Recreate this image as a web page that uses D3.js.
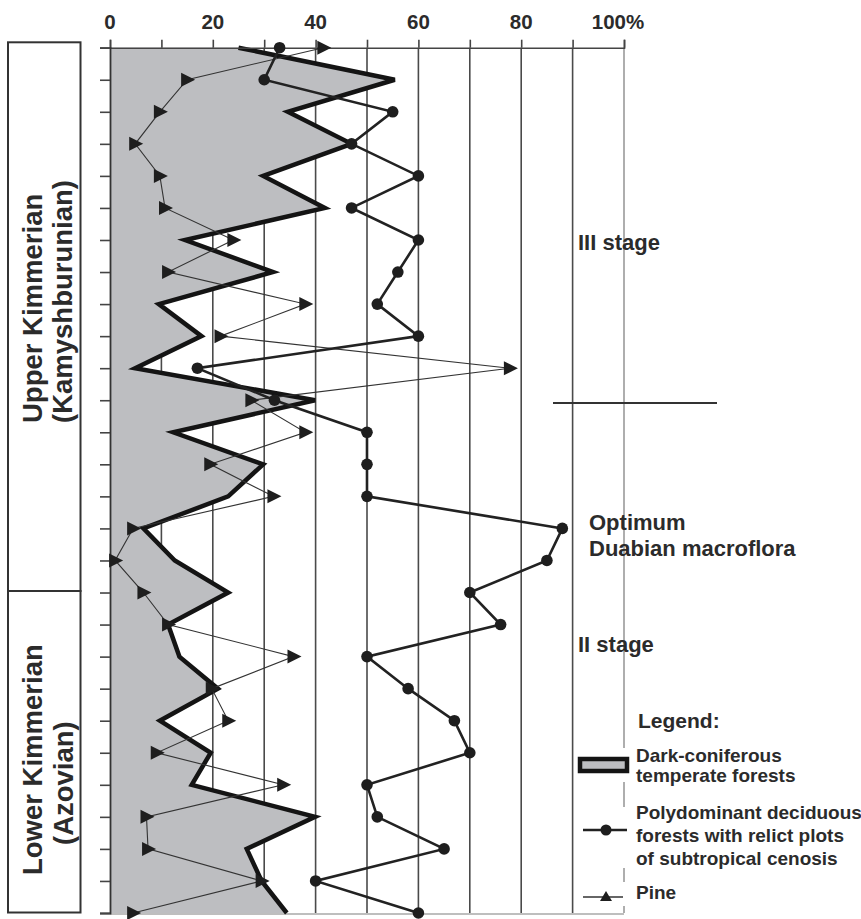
<!DOCTYPE html>
<html><head><meta charset="utf-8">
<script src="https://cdn.jsdelivr.net/npm/d3@7"></script>
<style>
body{margin:0;background:#fff;}
svg text{font-family:"Liberation Sans",Arial,sans-serif;font-weight:bold;fill:#2b2b2b;}
</style></head><body>
<svg id="chart" width="861" height="919"></svg>
<script>
// Sampling levels of the section, top (youngest) to bottom (oldest)
const levels = d3.range(28);
// Dark-coniferous temperate forests, % of pollen spectrum
const coniferous = [25, 55.4, 34.6, 47, 29.8, 41.8, 14.6, 31.7, 9.5, 17.8, 4.9, 39.9, 12.3, 29.8,
                    23, 6.5, 12.6, 23, 11.3, 13.5, 21, 9.7, 19.6, 15.9, 39.9, 26.6, 29.5, 34.4];
// Polydominant deciduous forests with relict plots of subtropical cenosis, %
const polydominant = [33, 30, 55, 47, 60, 47, 60, 56, 52, 60, 17, 32, 50, 50,
                      50, 88, 85, 70, 76, 50, 58, 67, 70, 50, 52, 65, 40, 60];
// Pine, %
const pine = [41.5, 15, 9.7, 4.9, 9.7, 10.7, 24, 11.3, 38, 21.5, 77.8, 27.5, 38, 19.5,
              31.8, 4.5, 1, 6.5, 11.3, 35.7, 19.8, 23, 9.1, 33.7, 7.1, 7.4, 29.5, 4.5];
const gridTicks = [0, 10, 20, 30, 40, 50, 60, 70, 80, 90, 100];
const labelTicks = [0, 20, 40, 60, 80, 100];
const labelText = ["0", "20", "40", "60", "80", "100%"];
const stages = [
  {name: "Upper Kimmerian", sub: "(Kamyshburunian)"},
  {name: "Lower Kimmerian", sub: "(Azovian)"}
];
const legendItems = [
  {kind: "area", lines: ["Dark-coniferous", "temperate forests"]},
  {kind: "poly", lines: ["Polydominant deciduous", "forests with relict plots", "of subtropical cenosis"]},
  {kind: "pine", lines: ["Pine"]}
];

const svg = d3.select("#chart");
const x = d3.scaleLinear().domain([0, 100]).range([110, 624]);
const y = d3.scaleLinear().domain([0, 27]).range([47.7, 913]);

// vertical grid every 10 %
svg.append("g").selectAll("line").data(gridTicks.filter(d => d > 0)).join("line")
  .attr("x1", d => x(d)).attr("x2", d => x(d))
  .attr("y1", y(0)).attr("y2", y(27))
  .attr("stroke", d => d === 100 ? "#9a9a9a" : "#4a4a4a")
  .attr("stroke-width", 1.6);

// bottom frame line
svg.append("line").attr("x1", x(0)).attr("x2", x(100)).attr("y1", y(27) + 1).attr("y2", y(27) + 1)
  .attr("stroke", "#a8a8a8").attr("stroke-width", 1.6);

// dark-coniferous area
const rows = levels.map(i => ({i, c: coniferous[i], p: polydominant[i], n: pine[i]}));
svg.append("path").datum(rows)
  .attr("fill", "#bdbec1")
  .attr("d", d3.area().x0(x(0)).x1(d => x(d.c)).y(d => y(d.i)));
svg.append("path").datum(rows)
  .attr("fill", "none").attr("stroke", "#141414").attr("stroke-width", 4.5)
  .attr("stroke-linejoin", "miter")
  .attr("d", d3.line().x(d => x(d.c)).y(d => y(d.i)));

// top axis
const topAxis = d3.axisTop(x).tickValues(gridTicks).tickSize(8).tickFormat("");
svg.append("g").attr("transform", `translate(0,${y(0)})`).call(topAxis)
  .call(g => g.select(".domain").attr("stroke", "#444").attr("stroke-width", 1.6))
  .call(g => g.selectAll(".tick line").attr("stroke", "#444").attr("stroke-width", 1.6));
svg.append("g").selectAll("text").data(labelTicks).join("text")
  .attr("x", (d, i) => x(d) - (i === labelTicks.length - 1 ? 6 : 0))
  .attr("y", 29).attr("text-anchor", "middle").attr("font-size", 20.5)
  .text((d, i) => labelText[i]);

// left axis
const leftAxis = d3.axisLeft(y).tickValues(levels).tickSize(10).tickFormat("");
svg.append("g").attr("transform", `translate(${x(0)},0)`).call(leftAxis)
  .call(g => g.select(".domain").attr("stroke", "#333").attr("stroke-width", 1.8))
  .call(g => g.selectAll(".tick line").attr("stroke", "#444").attr("stroke-width", 1.6));

// pine
const tri = "M-6,-7L-6,7L8,0Z";
svg.append("path").datum(rows)
  .attr("fill", "none").attr("stroke", "#333").attr("stroke-width", 1.1)
  .attr("d", d3.line().x(d => x(d.n)).y(d => y(d.i)));
svg.append("g").selectAll("path").data(rows).join("path")
  .attr("d", tri).attr("fill", "#1e1e1e")
  .attr("transform", d => `translate(${x(d.n)},${y(d.i)})`);

// polydominant deciduous forests
svg.append("path").datum(rows)
  .attr("fill", "none").attr("stroke", "#222").attr("stroke-width", 2.6)
  .attr("d", d3.line().x(d => x(d.p)).y(d => y(d.i)));
svg.append("g").selectAll("circle").data(rows).join("circle")
  .attr("cx", d => x(d.p)).attr("cy", d => y(d.i)).attr("r", 5.8).attr("fill", "#1e1e1e");

// stratigraphic column
const boxTop = 42.3, boxX0 = 8, boxX1 = 80.5;
const stageY = [boxTop, 591, 912.5];
stages.forEach((s, k) => {
  svg.append("rect").attr("x", boxX0).attr("y", stageY[k]).attr("width", boxX1 - boxX0)
    .attr("height", stageY[k + 1] - stageY[k]).attr("fill", "none")
    .attr("stroke", "#333").attr("stroke-width", 2);
});
const stageText = [
  {t: stages[0].name, x: 42, y: 423}, {t: stages[0].sub, x: 72, y: 423},
  {t: stages[1].name, x: 42, y: 875}, {t: stages[1].sub, x: 73, y: 845}
];
svg.append("g").selectAll("text").data(stageText).join("text")
  .attr("transform", d => `translate(${d.x},${d.y}) rotate(-90)`)
  .attr("font-size", 27.5).text(d => d.t);

// annotations
svg.append("text").attr("x", 578).attr("y", 250).attr("font-size", 22).text("III stage");
svg.append("line").attr("x1", 553).attr("x2", 717).attr("y1", 403).attr("y2", 403)
  .attr("stroke", "#333").attr("stroke-width", 1.8);
svg.append("text").attr("x", 589).attr("y", 530).attr("font-size", 22).text("Optimum");
svg.append("text").attr("x", 589).attr("y", 556).attr("font-size", 22).text("Duabian macroflora");
svg.append("text").attr("x", 578).attr("y", 652).attr("font-size", 22).text("II stage");

// legend
svg.append("text").attr("x", 638).attr("y", 728).attr("font-size", 21).text("Legend:");
const legendTop = [748, 807, 882];
const legendBottom = [782, 868, 906];
const baseY = [[762, 782], [819, 842, 865], [899]];
legendItems.forEach((it, k) => {
  const g = svg.append("g");
  g.append("rect").attr("x", 574).attr("y", legendTop[k]).attr("width", 287)
    .attr("height", legendBottom[k] - legendTop[k]).attr("fill", "#fff");
  if (it.kind === "area") {
    g.append("rect").attr("x", 580).attr("y", 759).attr("width", 47).attr("height", 12)
      .attr("fill", "#bdbec1").attr("stroke", "#141414").attr("stroke-width", 4.5);
  } else if (it.kind === "poly") {
    g.append("line").attr("x1", 583).attr("x2", 627).attr("y1", 830).attr("y2", 830)
      .attr("stroke", "#222").attr("stroke-width", 2.6);
    g.append("circle").attr("cx", 606).attr("cy", 830).attr("r", 5.5).attr("fill", "#1e1e1e");
  } else {
    g.append("line").attr("x1", 583).attr("x2", 623).attr("y1", 897).attr("y2", 897)
      .attr("stroke", "#333").attr("stroke-width", 1.3);
    g.append("path").attr("d", "M-6,4L6,4L0,-6Z").attr("fill", "#1e1e1e")
      .attr("transform", "translate(606,897)");
  }
  it.lines.forEach((t, j) => {
    g.append("text").attr("x", 636).attr("y", baseY[k][j]).attr("font-size", 19).text(t);
  });
});
</script>
</body></html>
